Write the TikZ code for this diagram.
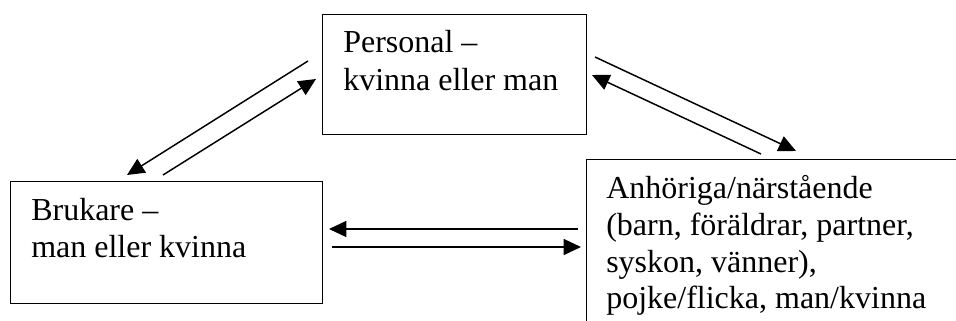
\documentclass[tikz,border=0pt]{standalone}
\usepackage{fontspec}
\setmainfont{Liberation Serif}
\usetikzlibrary{arrows.meta}
\begin{document}
\begin{tikzpicture}[x=0.75pt,y=-0.75pt,
  box/.style={draw, line width=1pt, rectangle, inner sep=0pt, anchor=north west},
  txt/.style={anchor=base west, inner sep=0pt, font=\fontsize{24pt}{27.75pt}\selectfont},
  conn/.style={line width=1.1pt, -{Triangle[length=13pt,width=12pt]}}]
\clip (0,0) rectangle (956,321);
\fill[white] (0,0) rectangle (956,321);
% boxes
\node[box, minimum width=264*0.75pt, minimum height=120*0.75pt] (pers) at (322,14) {};
\node[box, minimum width=312*0.75pt, minimum height=122*0.75pt] (bruk) at (10,181) {};
\node[box, minimum width=380*0.75pt, minimum height=180*0.75pt] (anh) at (586,159) {};
% texts
\node[txt] (p1) at (343,53) {Personal –};
\node[txt] (p2) at (343,90) {kvinna eller man};
\node[txt] (b1) at (31,220) {Brukare –};
\node[txt] (b2) at (31,257) {man eller kvinna};
\node[txt] (a1) at (606,198) {Anhöriga/närstående};
\node[txt] (a2) at (606,235) {(barn, föräldrar, partner,};
\node[txt] (a3) at (606,272) {syskon, vänner),};
\node[txt] (a4) at (606,308) {pojke/flicka, man/kvinna};
% connector end points
\coordinate (pb1s) at (308,61);  \coordinate (pb1e) at (127,175);
\coordinate (pb2s) at (163,175); \coordinate (pb2e) at (316,79);
\coordinate (pa1s) at (595,57);  \coordinate (pa1e) at (796,151);
\coordinate (pa2s) at (761,154); \coordinate (pa2e) at (592,75);
\coordinate (ab1s) at (578,229); \coordinate (ab1e) at (329,229);
\coordinate (ab2s) at (332,247); \coordinate (ab2e) at (581,247);
\draw[conn] (pb1s) -- (pb1e);
\draw[conn] (pb2s) -- (pb2e);
\draw[conn] (pa1s) -- (pa1e);
\draw[conn] (pa2s) -- (pa2e);
\draw[conn] (ab1s) -- (ab1e);
\draw[conn] (ab2s) -- (ab2e);
\end{tikzpicture}
\end{document}
